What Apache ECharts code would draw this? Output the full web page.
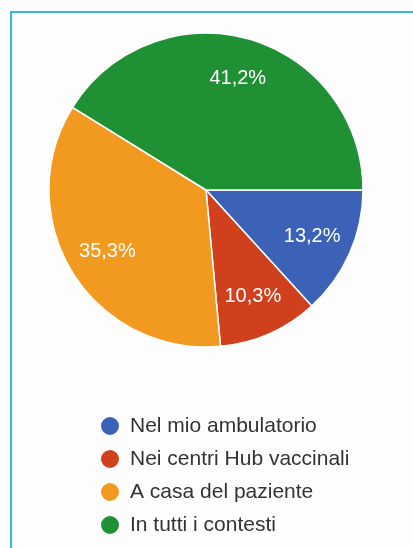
<!DOCTYPE html>
<html>
<head>
<meta charset="utf-8">
<script src="https://cdn.jsdelivr.net/npm/echarts@6/dist/echarts.min.js"></script>
<style>
  html, body { margin: 0; padding: 0; background: #fdfdfd; }
  #frame {
    position: absolute; left: 10px; top: 11px; right: 0; bottom: 0;
    border-left: 2px solid #3db5dc; border-top: 2px solid #3db5dc;
  }
  #chart { position: absolute; left: 0; top: 0; width: 413px; height: 548px; }
</style>
</head>
<body>
<div id="frame"></div>
<div id="chart"></div>
<script>
const categories = ["Nel mio ambulatorio", "Nei centri Hub vaccinali", "A casa del paziente", "In tutti i contesti"];
const counts = [9, 7, 24, 28];
const sliceColors = ["#3b62b7", "#d0401c", "#f2991f", "#1f9134"];

const pieData = categories.map((name, i) => ({ name, value: counts[i], itemStyle: { color: sliceColors[i] } }));
const fontFamily = "'Liberation Sans', Arial, sans-serif";

const chart = echarts.init(document.getElementById("chart"), null, { renderer: "canvas" });

chart.setOption({
  animation: false,
  legend: {
    orient: "vertical",
    left: 99,
    top: 415,
    height: 130,
    padding: 0,
    icon: "circle",
    itemWidth: 20,
    itemHeight: 20,
    itemGap: 11,
    textStyle: { color: "#333", fontSize: 21, lineHeight: 20, fontFamily, padding: [0, 0, 0, 5] },
    data: categories,
    selectedMode: false,
  },
  series: [
    {
      name: "main",
      type: "pie",
      center: [206, 190],
      radius: [0, 157],
      startAngle: 0,
      clockwise: true,
      label: { show: false },
      labelLine: { show: false },
      itemStyle: { borderColor: "#fff", borderWidth: 1.5 },
      emphasis: { disabled: true },
      data: pieData,
    },
    {
      // invisible copy, only used to put the percentages at ~72% of the radius
      name: "labels",
      type: "pie",
      center: [206, 190],
      radius: [0, 226],
      startAngle: 0,
      clockwise: true,
      silent: true,
      percentPrecision: 1,
      itemStyle: { color: "rgba(0,0,0,0)", borderWidth: 0 },
      emphasis: { disabled: true },
      label: {
        show: true,
        position: "inside",
        color: "#fff",
        fontSize: 20,
        fontFamily,
        formatter: (p) => p.percent.toFixed(1).replace(".", ",") + "%",
      },
      labelLine: { show: false },
      data: categories.map((name, i) => ({ name, value: counts[i] })),
    },
  ],
});
</script>
</body>
</html>
